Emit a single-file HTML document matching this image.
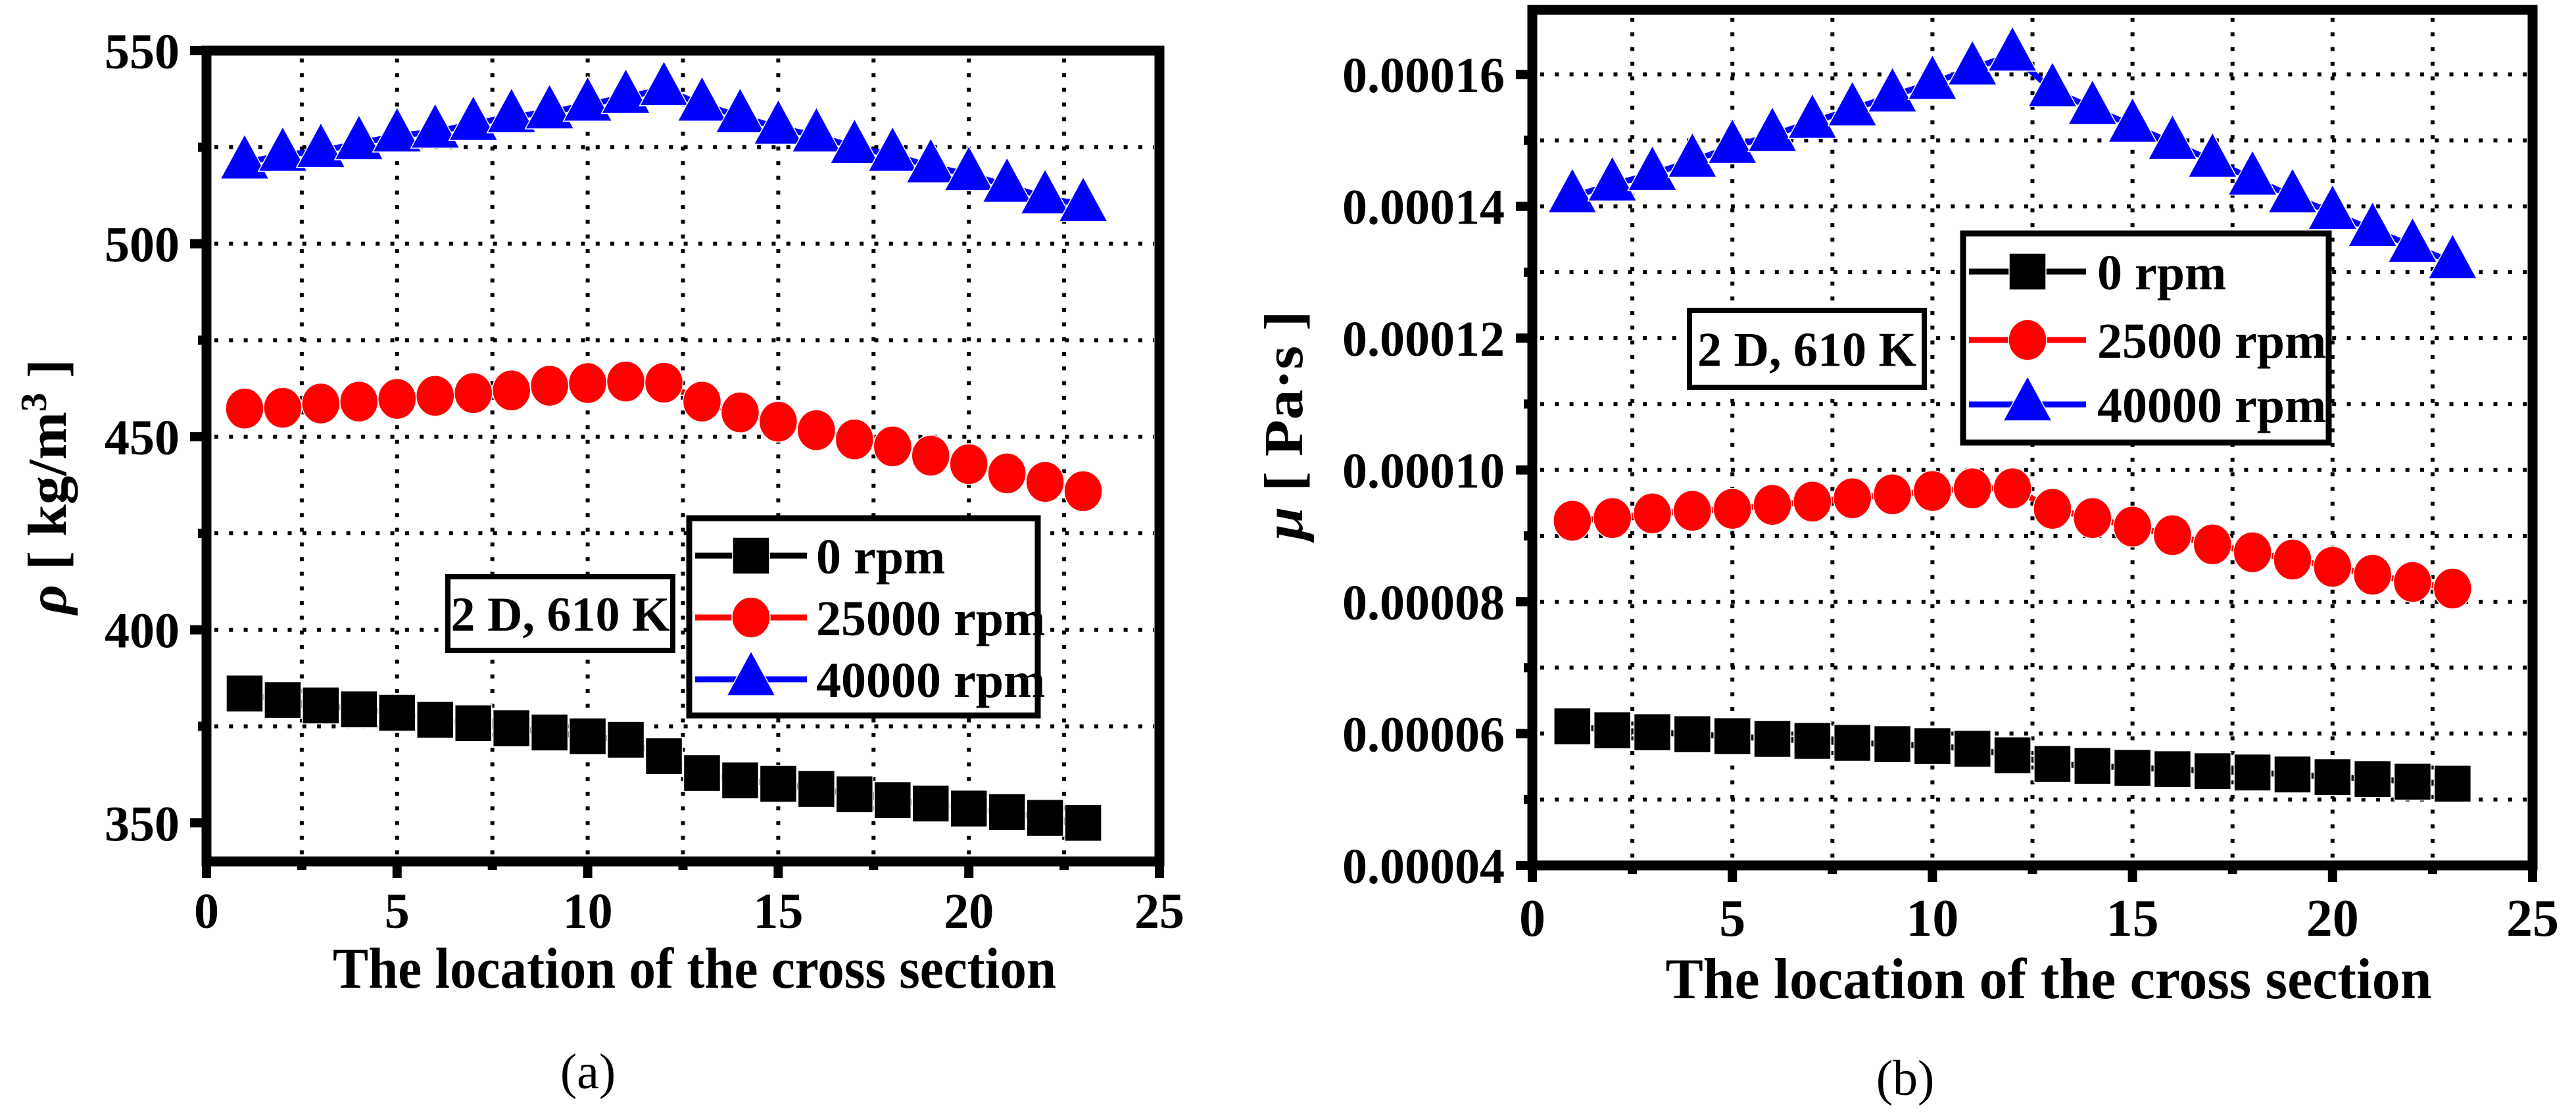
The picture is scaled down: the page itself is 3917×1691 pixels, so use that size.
<!DOCTYPE html>
<html><head><meta charset="utf-8"><style>
html,body{margin:0;padding:0;background:#fff;}
svg{display:block;}
text{font-family:"Liberation Serif",serif;font-weight:bold;fill:#000;}
</style></head><body>
<svg id="fig" width="3917" height="1691" viewBox="0 0 3917 1691" xmlns="http://www.w3.org/2000/svg"></svg>
<script>
const categories = [1,2,3,4,5,6,7,8,9,10,11,12,13,14,15,16,17,18,19,20,21,22,23];
const seriesNames = ["0 rpm","25000 rpm","40000 rpm"];
const rho0 = [383.5,381.8,380.4,379.4,378.5,376.7,375.8,374.5,373.4,372.4,371.5,367.3,362.9,361.0,360.1,358.8,357.4,355.9,355.0,353.7,352.8,351.3,350.0];
const rho25000 = [457.3,457.5,458.6,459.1,459.8,460.6,461.3,462.0,463.2,463.9,464.3,464.0,459.1,456.3,453.9,451.7,449.3,447.5,445.1,442.9,440.5,438.3,435.9];
const rho40000 = [521,523,524,526,528,529,531,533,534,536,538,540,536,533,530,528,525,523,520,518,515,512,510];
const mu0 = [61.1,60.5,60.2,59.9,59.6,59.2,58.9,58.6,58.4,58.1,57.7,56.7,55.4,55.1,54.8,54.6,54.3,54.1,53.8,53.4,53.1,52.7,52.4];
const mu25000 = [92.3,92.7,93.4,93.8,94.1,94.7,95.2,95.7,96.3,96.8,97.2,97.2,94.1,92.7,91.4,90.1,88.7,87.5,86.4,85.3,84.1,83.0,82.0];
const mu40000 = [141.5,143.3,144.9,146.9,149.0,150.8,152.8,154.7,156.8,158.7,160.9,163.0,157.6,154.9,152.2,149.6,146.9,144.2,141.5,139.0,136.4,134.0,131.5];
const xTicks = [0,5,10,15,20,25];
const rhoTicks = [350,400,450,500,550];
const muTicks = [40,60,80,100,120,140,160];
const muTickLabels = ["0.00004","0.00006","0.00008","0.00010","0.00012","0.00014","0.00016"];

const NS="http://www.w3.org/2000/svg";
const svg=document.getElementById('fig');
function mk(tag,attrs,parent){const e=document.createElementNS(NS,tag);for(const k in attrs)e.setAttribute(k,attrs[k]);(parent||svg).appendChild(e);return e;}

function drawPanel(p){
  const g=mk('g',{});
  
  
  const sx=v=>p.x0+(v-p.xmin)/(p.xmax-p.xmin)*(p.x1-p.x0);
  const sy=v=>p.y1-(v-p.ymin)/(p.ymax-p.ymin)*(p.y1-p.y0);
  // grid
  for(let v=2.5;v<p.xmax;v+=2.5){const l=mk('line',{x1:sx(v),x2:sx(v),y1:p.y0+12,y2:p.y1-8,stroke:'#000','stroke-width':6,'stroke-dasharray':'6 16.3'},g);}
  for(let v=p.gridStart;v<p.ymax-1e-9;v+=p.gridStep){const l=mk('line',{x1:p.x0+12,x2:p.x1-8,y1:sy(v),y2:sy(v),stroke:'#000','stroke-width':6,'stroke-dasharray':'6 16.3'},g);}
  // series
  const colors=['#000','#ff0000','#0000ff'];
  const shapes=['square','circle','triangle'];
  p.series.forEach((arr,si)=>{
    const pts=categories.map((c,i)=>sx(c)+','+sy(arr[i])).join(' ');
    const pl=mk('polyline',{points:pts,fill:'none',stroke:colors[si],'stroke-width':9},g);
    
    
    categories.forEach((c,i)=>{
      const m=marker(g,shapes[si],sx(c),sy(arr[i]),colors[si]);
      
      
    });
  });
  // frame
  const fr=mk('rect',{x:p.x0,y:p.y0,width:p.x1-p.x0,height:p.y1-p.y0,fill:'none',stroke:'#000','stroke-width':15},g);
  
  // x ticks
  xTicks.forEach(v=>{
    mk('line',{x1:sx(v),x2:sx(v),y1:p.y1,y2:p.y1+25,stroke:'#000','stroke-width':14},g);
    const t=mk('text',{x:sx(v),y:p.xLabelY,'text-anchor':'middle','font-size':p.xFont},g);t.textContent=v;
    
  });
  for(let v=2.5;v<p.xmax;v+=5){mk('line',{x1:sx(v),x2:sx(v),y1:p.y1,y2:p.y1+13,stroke:'#000','stroke-width':14},g);}
  p.yTicks.forEach((v,i)=>{
    mk('line',{x1:p.x0-25,x2:p.x0,y1:sy(v),y2:sy(v),stroke:'#000','stroke-width':14},g);
    const t=mk('text',{x:p.yLabelX,y:sy(v)+27,'text-anchor':'end','font-size':76},g);t.textContent=p.yLabels[i];
    
  });
  for(let v=p.gridStart;v<p.ymax-1e-9;v+=p.gridStep*2){mk('line',{x1:p.x0-13,x2:p.x0,y1:sy(v),y2:sy(v),stroke:'#000','stroke-width':14},g);}
  // x title
  const xt=mk('text',{x:p.xtX,y:p.xtY,'text-anchor':'middle','font-size':88,textLength:p.xtLen,lengthAdjust:'spacingAndGlyphs'},g);
  xt.textContent='The location of the cross section';
  
  // y title
  const yt=mk('text',{x:0,y:0,'text-anchor':'middle','font-size':84,transform:`translate(${p.ytX},${p.ytY}) rotate(-90)`,textLength:p.ytLen,lengthAdjust:'spacingAndGlyphs'},g);
  yt.innerHTML=p.ytHTML;
  
  // annotation
  const ab=mk('rect',{x:p.ann[0],y:p.ann[1],width:p.ann[2],height:p.ann[3],fill:'#fff',stroke:'#000','stroke-width':8},g);
  
  const at=mk('text',{x:p.ann[0]+p.ann[2]/2,y:p.ann[1]+p.ann[3]/2+26,'text-anchor':'middle','font-size':74},g);
  at.textContent='2 D, 610 K';
  // legend
  const L=p.leg;
  const lb=mk('rect',{x:L.x,y:L.y,width:L.w,height:L.h,fill:'#fff',stroke:'#000','stroke-width':9},g);
  
  seriesNames.forEach((n,i)=>{
    const ey=L.rows[i];
    const eg=mk('g',{},g);
    
    mk('line',{x1:L.lx0,x2:L.lx1,y1:ey,y2:ey,stroke:colors[i],'stroke-width':9},eg);
    marker(eg,shapes[i],(L.lx0+L.lx1)/2,ey,colors[i]);
    const t=mk('text',{x:L.tx,y:ey+27,'font-size':76},eg);t.textContent=n;
  });
  // caption
  const cap=mk('text',{x:p.capX,y:p.capY,'text-anchor':'middle','font-size':76,'font-weight':'normal',style:'font-weight:normal'},g);
  cap.innerHTML=p.cap;
}
function marker(g,shape,x,y,c){
  if(shape==='square')return mk('rect',{x:x-28,y:y-28,width:56,height:56,fill:c,stroke:'#fff','stroke-width':1.5},g);
  if(shape==='circle')return mk('ellipse',{cx:x,cy:y,rx:29,ry:31,fill:c,stroke:'#fff','stroke-width':1.5},g);
  return mk('polygon',{points:`${x},${y-43} ${x+37},${y+25} ${x-37},${y+25}`,fill:c,stroke:'#fff','stroke-width':1.5},g);
}
drawPanel({name:'density-chart',x0:314,x1:1763,y0:77,y1:1310,xmin:0,xmax:25,ymin:340,ymax:550,
  series:[rho0,rho25000,rho40000],yTicks:rhoTicks,yLabels:rhoTicks.map(String),gridStart:375,gridStep:25,
  yLabelX:273,xLabelY:1411,xFont:76,xtX:1056,xtY:1502,xtLen:1100,
  ytX:100,ytY:740,ytLen:388,ytHTML:'<tspan font-style="italic">ρ</tspan> [ kg/m<tspan dy="-30" font-size="56">3</tspan><tspan dy="30"> ]</tspan>',
  ann:[681,877,342,112],
  leg:{x:1048,y:788,w:530,h:300,rows:[845,939,1033],lx0:1057,lx1:1227,tx:1241},
  capX:894,capY:1655,cap:'(<tspan font-weight="normal">a</tspan>)'});
drawPanel({name:'viscosity-chart',x0:2330,x1:3851,y0:15,y1:1316,xmin:0,xmax:25,ymin:40,ymax:169.8,
  series:[mu0,mu25000,mu40000],yTicks:muTicks,yLabels:muTickLabels,gridStart:50,gridStep:10,
  yLabelX:2288,xLabelY:1423,xFont:80,xtX:3115,xtY:1518,xtLen:1165,
  ytX:1980,ytY:647,ytLen:349,ytHTML:'<tspan font-style="italic">μ</tspan> [ Pa·s ]',
  ann:[2569,472,357,117],
  leg:{x:2985,y:355,w:556,h:318,rows:[413,517,615],lx0:2994,lx1:3172,tx:3189},
  capX:2897,capY:1665,cap:'(b)'});
</script>
</body></html>
